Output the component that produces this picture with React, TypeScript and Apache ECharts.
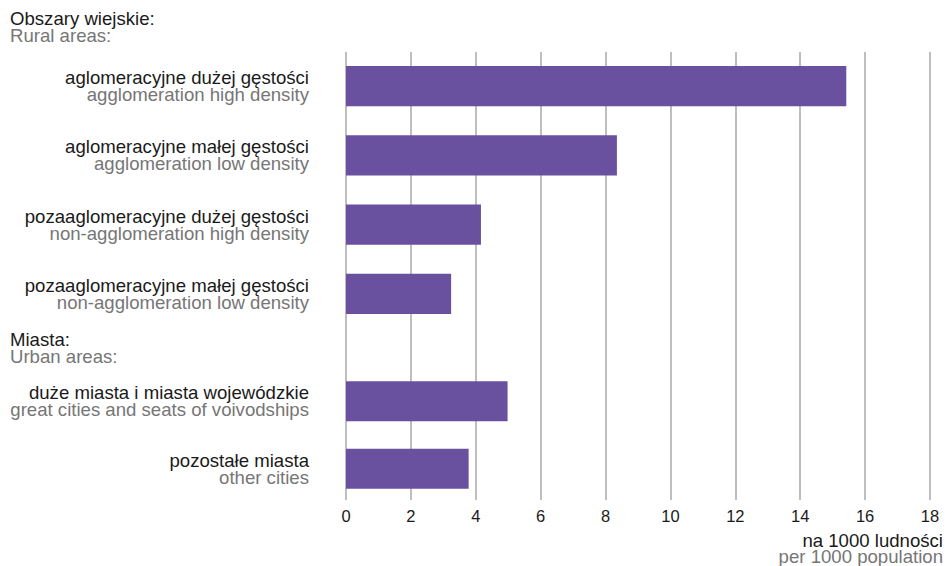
import React, { useEffect, useRef } from "react";
import * as echarts from "echarts";

const ruralPl = [
  "aglomeracyjne dużej gęstości",
  "aglomeracyjne małej gęstości",
  "pozaaglomeracyjne dużej gęstości",
  "pozaaglomeracyjne małej gęstości",
];
const ruralEn = [
  "agglomeration high density",
  "agglomeration low density",
  "non-agglomeration high density",
  "non-agglomeration low density",
];
const ruralValues = [15.42, 8.35, 4.16, 3.24];

const urbanPl = ["duże miasta i miasta wojewódzkie", "pozostałe miasta"];
const urbanEn = ["great cities and seats of voivodships", "other cities"];
const urbanValues = [4.98, 3.78];

const groupHeaders = [
  { pl: "Obszary wiejskie:", en: "Rural areas:" },
  { pl: "Miasta:", en: "Urban areas:" },
];
const axisUnitPl = "na 1000 ludności";
const axisUnitEn = "per 1000 population";

const FONT = "'Liberation Sans', Arial, sans-serif";
const DARK = "#1a1a1a";
const GREY = "#767676";
const BAR = "#6a51a0";
const LINE = "#a8a8a8";
const FS = 18.6;
const LH = 17;

export default function App() {
  const ref = useRef<HTMLDivElement>(null);
  useEffect(() => {
    if (!ref.current) return;
    const chart = echarts.init(ref.current, undefined, { renderer: "svg" });
    const left = 346;
    const right = 15;
    const labelRich = {
      a: { color: DARK, fontSize: FS, fontFamily: FONT, lineHeight: LH, align: "right" },
      b: { color: GREY, fontSize: FS, fontFamily: FONT, lineHeight: LH, align: "right" },
    };
    const hiddenX = (gi: number) => ({
      type: "value",
      gridIndex: gi,
      min: 0,
      max: 18,
      interval: 2,
      show: false,
      splitLine: { show: false },
    });
    const catY = (gi: number, pl: string[], en: string[]) => ({
      type: "category",
      gridIndex: gi,
      inverse: true,
      data: pl,
      axisLine: { show: false },
      axisTick: { show: false },
      axisLabel: {
        margin: 37,
        formatter: (v: string, i: number) => `{a|${v}}\n{b|${en[i]}}`,
        rich: labelRich,
      },
    });
    const headerText = (h: { pl: string; en: string }, top: number) => [
      {
        type: "text",
        left: 10,
        top,
        style: { text: h.pl, fill: DARK, font: `${FS}px ${FONT}` },
      },
      {
        type: "text",
        left: 10,
        top: top + LH,
        style: { text: h.en, fill: GREY, font: `${FS}px ${FONT}` },
      },
    ];
    chart.setOption({
      animation: false,
      backgroundColor: "#fff",
      grid: [
        { left, right, top: 52, height: 448 },
        { left, right, top: 51.5, height: 277 },
        { left, right, top: 367.5, height: 135 },
      ],
      xAxis: [
        {
          type: "value",
          gridIndex: 0,
          min: 0,
          max: 18,
          interval: 2,
          axisLine: { show: false },
          axisTick: { show: false },
          axisLabel: { color: DARK, fontSize: 16.5, fontFamily: FONT, margin: 7 },
          splitLine: { show: true, lineStyle: { color: LINE, width: 1.5 } },
        },
        hiddenX(1),
        hiddenX(2),
      ],
      yAxis: [
        { type: "category", gridIndex: 0, show: false, data: ["x"] },
        catY(1, ruralPl, ruralEn),
        catY(2, urbanPl, urbanEn),
      ],
      series: [
        {
          type: "bar",
          xAxisIndex: 1,
          yAxisIndex: 1,
          data: ruralValues,
          barWidth: "58%",
          itemStyle: { color: BAR },
        },
        {
          type: "bar",
          xAxisIndex: 2,
          yAxisIndex: 2,
          data: urbanValues,
          barWidth: "59%",
          itemStyle: { color: BAR },
        },
      ],
      graphic: [
        ...headerText(groupHeaders[0], 8.5),
        ...headerText(groupHeaders[1], 329.5),
        {
          type: "text",
          right: 2,
          top: 530.5,
          style: { text: axisUnitPl, fill: DARK, font: `${FS}px ${FONT}`, align: "right" },
        },
        {
          type: "text",
          right: 2,
          top: 547,
          style: { text: axisUnitEn, fill: GREY, font: `${FS}px ${FONT}`, align: "right" },
        },
      ],
    });
    return () => chart.dispose();
  }, []);
  return (
    <div
      ref={ref}
      style={{ position: "absolute", left: 0, top: 0, width: 945, height: 566 }}
    />
  );
}
